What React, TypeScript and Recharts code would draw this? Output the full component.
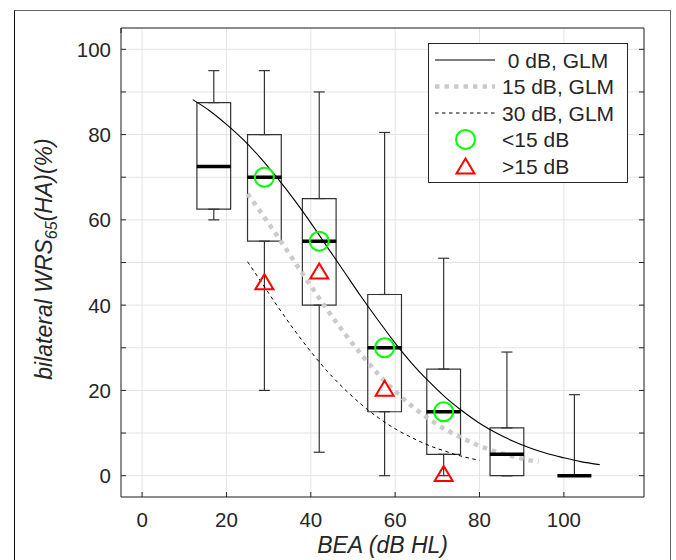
import React from "react";
import {
  ComposedChart,
  Line,
  Scatter,
  XAxis,
  YAxis,
  CartesianGrid,
  ErrorBar,
  ReferenceArea,
} from "recharts";

const FONT = '"Liberation Sans", Arial, Helvetica, sans-serif';
const INK = "#262626";

// BEA bins (dB HL) and the box statistics of WRS65 (%)
const binCenters = [17, 29, 42, 57.5, 71.5, 86.5, 102.5];
const whiskerMax = [95, 95, 90, 80.5, 51, 29, 19];
const quartile3 = [87.5, 80, 65, 42.5, 25, 11.2, 0];
const medians = [72.5, 70, 55, 30, 15, 5, 0];
const quartile1 = [62.5, 55, 40, 15, 5, 0, 0];
const whiskerMin = [60, 20, 5.5, 0, 0, 0, 0];

// group values by interaural difference
const groupBea = [29, 42, 57.5, 71.5];
const below15 = [70, 55, 30, 15];
const above15 = [45.5, 48, 20.5, 0.5];

// GLM fits
const glm0Bea = [12, 16, 20, 24, 28, 32, 36, 40, 44, 48, 52, 56, 60, 64, 68, 72, 76, 80, 84, 88, 92, 96, 100, 104, 108.5];
const glm0Wrs = [88.2, 85.6, 82.4, 78.8, 74.6, 69.9, 64.8, 59.3, 53.5, 47.7, 41.9, 36.4, 31.1, 26.3, 22.1, 18.3, 15.1, 12.3, 10.0, 8.1, 6.5, 5.2, 4.2, 3.3, 2.6];
const glm15Bea = [25, 28, 32, 36, 40, 44, 48, 52, 56, 60, 64, 68, 72, 76, 80, 84, 88, 92, 94];
const glm15Wrs = [66.1, 62.0, 56.3, 50.4, 44.5, 38.8, 33.4, 28.4, 23.8, 19.8, 16.3, 13.3, 10.8, 8.8, 7.0, 5.6, 4.5, 3.6, 3.2];
const glm30Bea = [25, 28, 32, 36, 40, 44, 48, 52, 56, 60, 64, 68, 72, 76, 80];
const glm30Wrs = [50.2, 45.8, 39.9, 34.3, 29.1, 24.4, 20.3, 16.7, 13.6, 11.0, 8.9, 7.1, 5.7, 4.5, 3.6];

const xTicks = [0, 20, 40, 60, 80, 100];
const yTicks = [0, 10, 20, 30, 40, 50, 60, 70, 80, 90, 100];
const yLabeled = [0, 20, 40, 60, 80, 100];

const legendLabels = [" 0 dB, GLM", "15 dB, GLM", "30 dB, GLM", "<15 dB", ">15 dB"];

const zip = (xs: number[], ys: number[]) => xs.map((x, i) => ({ x, y: ys[i] }));

const BOX_HALF = 17; // px, median bar
const BOX_HALF_BEA = 4; // box half width in dB

const BottomTick = (p: any) => (
  <g>
    <line x1={p.x} x2={p.x} y1={p.y} y2={p.y - 5} stroke={INK} />
    <text x={p.x} y={p.y + 30} textAnchor="middle" fontSize={20.5} fill={INK} fontFamily={FONT}>
      {p.payload.value}
    </text>
  </g>
);
const TopTick = (p: any) => <line x1={p.x} x2={p.x} y1={p.y} y2={p.y + 5} stroke={INK} />;
const LeftTick = (p: any) => (
  <g>
    <line x1={p.x} x2={p.x + 5} y1={p.y} y2={p.y} stroke={INK} />
    {yLabeled.includes(p.payload.value) && (
      <text x={p.x - 10} y={p.y + 7.5} textAnchor="end" fontSize={20.5} fill={INK} fontFamily={FONT}>
        {p.payload.value}
      </text>
    )}
  </g>
);
const RightTick = (p: any) => <line x1={p.x} x2={p.x - 5} y1={p.y} y2={p.y} stroke={INK} />;

const triangle = (cx: number, cy: number) =>
  `${cx},${cy - 7.5} ${cx - 9},${cy + 7.5} ${cx + 9},${cy + 7.5}`;

export default function App() {
  const boxes = binCenters.map((x, i) => ({
    x,
    q1: quartile1[i],
    q3: quartile3[i],
    med: medians[i],
    upper: [0, whiskerMax[i] - quartile3[i]],
    lower: [quartile1[i] - whiskerMin[i], 0],
  }));
  const circles = zip(groupBea, below15);
  const triangles = zip(groupBea, above15);

  const rowsY = [60, 86.5, 113, 139.5, 166];

  return (
    <div
      style={{
        position: "absolute",
        left: 0,
        top: 0,
        width: 676,
        height: 560,
        overflow: "hidden",
        background: "#fff",
        fontFamily: FONT,
      }}
    >
      <div
        style={{
          position: "absolute",
          left: 14,
          top: 10,
          width: 657,
          height: 620,
          borderTop: "1px solid #666",
          borderRight: "1px solid #666",
          borderLeft: "1.5px solid #111",
          boxSizing: "border-box",
        }}
      />
      <div style={{ position: "absolute", left: 0, top: 0 }}>
        <ComposedChart
          width={676}
          height={560}
          data={boxes}
          margin={{ top: 27, right: 31, bottom: 62, left: 120 }}
        >
          <CartesianGrid stroke="#e4e4e4" />
          <XAxis
            dataKey="x"
            type="number"
            domain={[-5, 119]}
            ticks={xTicks}
            allowDataOverflow
            interval={0}
            height={1}
            tickSize={0}
            tickMargin={0}
            tickLine={false}
            axisLine={{ stroke: INK }}
            tick={(p: any) => <BottomTick {...p} />}
          />
          <XAxis
            xAxisId="top"
            orientation="top"
            type="number"
            domain={[-5, 119]}
            ticks={xTicks}
            allowDataOverflow
            interval={0}
            height={1}
            tickSize={0}
            tickMargin={0}
            tickLine={false}
            axisLine={{ stroke: INK }}
            tick={(p: any) => <TopTick {...p} />}
          />
          <YAxis
            type="number"
            domain={[-5, 105]}
            ticks={yTicks}
            allowDataOverflow
            interval={0}
            width={1}
            tickSize={0}
            tickMargin={0}
            tickLine={false}
            axisLine={{ stroke: INK }}
            tick={(p: any) => <LeftTick {...p} />}
          />
          <YAxis
            yAxisId="right"
            orientation="right"
            type="number"
            domain={[-5, 105]}
            ticks={yTicks}
            allowDataOverflow
            interval={0}
            width={1}
            tickSize={0}
            tickMargin={0}
            tickLine={false}
            axisLine={{ stroke: INK }}
            tick={(p: any) => <RightTick {...p} />}
          />

          {boxes.map((b) => (
            <ReferenceArea
              key={b.x}
              x1={b.x - BOX_HALF_BEA}
              x2={b.x + BOX_HALF_BEA}
              y1={b.q1}
              y2={b.q3}
              fill="#fff"
              fillOpacity={0}
              stroke="#333"
              strokeWidth={1.2}
              ifOverflow="visible"
            />
          ))}
          <Scatter dataKey="q3" shape={() => <g />} isAnimationActive={false}>
            <ErrorBar dataKey="upper" direction="y" width={5.5} stroke="#333" strokeWidth={1.2} />
          </Scatter>
          <Scatter dataKey="q1" shape={() => <g />} isAnimationActive={false}>
            <ErrorBar dataKey="lower" direction="y" width={5.5} stroke="#333" strokeWidth={1.2} />
          </Scatter>

          <Line
            data={zip(glm15Bea, glm15Wrs)}
            dataKey="y"
            type="monotone"
            dot={false}
            activeDot={false}
            stroke="#cbcbcb"
            strokeWidth={4.5}
            strokeDasharray="4.5 5"
            isAnimationActive={false}
          />
          <Line
            data={zip(glm30Bea, glm30Wrs)}
            dataKey="y"
            type="monotone"
            dot={false}
            activeDot={false}
            stroke="#000"
            strokeWidth={1}
            strokeDasharray="3.5 3.5"
            isAnimationActive={false}
          />
          <Line
            data={zip(glm0Bea, glm0Wrs)}
            dataKey="y"
            type="monotone"
            dot={false}
            activeDot={false}
            stroke="#000"
            strokeWidth={1.1}
            isAnimationActive={false}
          />

          <Scatter
            dataKey="med"
            isAnimationActive={false}
            shape={(p: any) => (
              <line
                x1={p.cx - BOX_HALF}
                x2={p.cx + BOX_HALF}
                y1={p.cy}
                y2={p.cy}
                stroke="#000"
                strokeWidth={3.5}
              />
            )}
          />
          <Scatter
            data={circles}
            dataKey="y"
            isAnimationActive={false}
            shape={(p: any) => (
              <circle cx={p.cx} cy={p.cy} r={9.5} fill="none" stroke="#00ff00" strokeWidth={2} />
            )}
          />
          <Scatter
            data={triangles}
            dataKey="y"
            isAnimationActive={false}
            shape={(p: any) => (
              <polygon points={triangle(p.cx, p.cy)} fill="none" stroke="#ff0000" strokeWidth={2} />
            )}
          />
        </ComposedChart>
      </div>

      <svg
        width={676}
        height={560}
        style={{ position: "absolute", left: 0, top: 0, pointerEvents: "none" }}
      >
        <rect x={428.5} y={43.5} width={199} height={139} fill="#fff" stroke={INK} />
        <line x1={435} x2={495} y1={rowsY[0]} y2={rowsY[0]} stroke="#000" strokeWidth={1.1} />
        <line
          x1={435}
          x2={495}
          y1={rowsY[1]}
          y2={rowsY[1]}
          stroke="#cbcbcb"
          strokeWidth={4.5}
          strokeDasharray="4.5 5"
        />
        <line
          x1={435}
          x2={495}
          y1={rowsY[2]}
          y2={rowsY[2]}
          stroke="#000"
          strokeWidth={1}
          strokeDasharray="3.5 3.5"
        />
        <circle cx={465.5} cy={rowsY[3]} r={9.5} fill="none" stroke="#00ff00" strokeWidth={2} />
        <polygon points={triangle(465.5, rowsY[4])} fill="none" stroke="#ff0000" strokeWidth={2} />
        {legendLabels.map((label, i) => (
          <text
            key={label}
            x={502}
            y={rowsY[i] + 7.5}
            fontSize={21}
            fill={INK}
            fontFamily={FONT}
            style={{ whiteSpace: "pre" }}
          >
            {label}
          </text>
        ))}

        <text
          x={382.6}
          y={553}
          textAnchor="middle"
          fontSize={23}
          fontStyle="italic"
          fill={INK}
          fontFamily={FONT}
        >
          BEA (dB HL)
        </text>
        <text
          transform="translate(52,259) rotate(-90)"
          textAnchor="middle"
          fontSize={23}
          fontStyle="italic"
          fill={INK}
          fontFamily={FONT}
        >
          bilateral WRS
          <tspan fontSize={16} dy={5}>
            65
          </tspan>
          <tspan dy={-5}>(HA)(%)</tspan>
        </text>
      </svg>
    </div>
  );
}
